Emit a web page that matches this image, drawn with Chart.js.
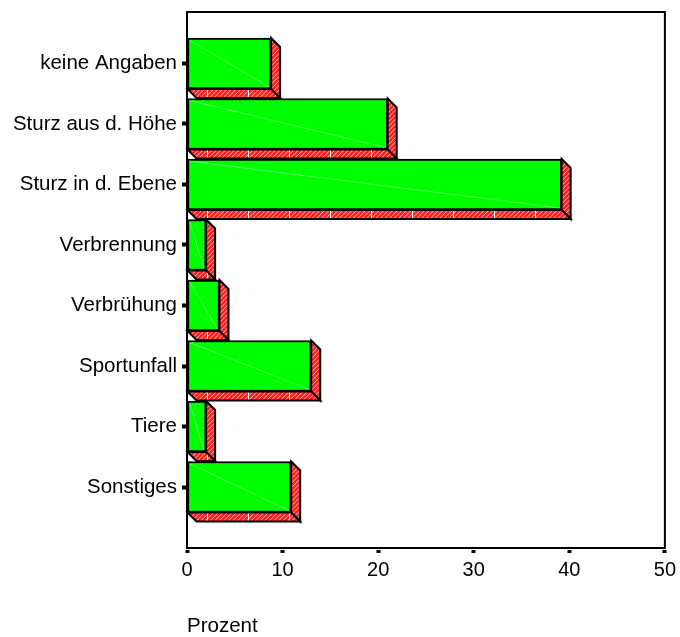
<!DOCTYPE html>
<html>
<head>
<meta charset="utf-8">
<script src="https://cdn.jsdelivr.net/npm/chart.js@4"></script>
<style>
html, body { margin: 0; padding: 0; background: #fff; }
</style>
</head>
<body>
<canvas id="myChart" width="680" height="637"></canvas>
<script>
// data
var categories = ['keine Angaben', 'Sturz aus d. Höhe', 'Sturz in d. Ebene', 'Verbrennung', 'Verbrühung', 'Sportunfall', 'Tiere', 'Sonstiges'];
var prozent = [8.8, 21.0, 39.2, 2.0, 3.4, 13.0, 2.0, 10.9];
var xTicks = [0, 10, 20, 30, 40, 50];
var xTitle = 'Prozent';

Chart.defaults.font.family = '"Liberation Sans", Arial, sans-serif';
Chart.defaults.color = '#000';

var DX = 9, DY = 9;

function makeHatch(withVertical) {
    var s = 41;
    var c = document.createElement('canvas');
    c.width = s; c.height = s;
    var g = c.getContext('2d');
    g.fillStyle = '#ff2020';
    g.fillRect(0, 0, s, s);
    g.strokeStyle = 'rgba(255,255,255,0.65)';
    g.lineWidth = 1;
    var p = s / 9;
    for (var k = 0; k <= 18; k++) {
        g.beginPath();
        g.moveTo(k * p, 0);
        g.lineTo(k * p - s, s);
        g.stroke();
    }
    if (withVertical) {
        g.strokeStyle = '#fff';
        g.beginPath();
        g.moveTo(0.5, 0);
        g.lineTo(0.5, s);
        g.stroke();
    }
    return c;
}

var ctx = document.getElementById('myChart').getContext('2d');
var hatchSide = ctx.createPattern(makeHatch(false), 'repeat');
var hatchBottom = ctx.createPattern(makeHatch(true), 'repeat');
if (hatchBottom.setTransform) hatchBottom.setTransform(new DOMMatrix().translate(2, 0));

var depth = {
    id: 'depth',
    beforeDatasetsDraw: function(chart) {
        var c = chart.ctx;
        chart.getDatasetMeta(0).data.forEach(function(bar) {
            var p = bar.getProps(['x', 'y', 'base', 'height'], true);
            var top = p.y - p.height / 2, bottom = p.y + p.height / 2;
            c.save();
            c.lineWidth = 2;
            c.strokeStyle = '#000';
            c.lineJoin = 'miter';
            // right face
            c.beginPath();
            c.moveTo(p.x, top);
            c.lineTo(p.x + DX, top + DY);
            c.lineTo(p.x + DX, bottom + DY);
            c.lineTo(p.x, bottom);
            c.closePath();
            c.fillStyle = hatchSide;
            c.fill();
            c.stroke();
            // bottom face
            c.beginPath();
            c.moveTo(p.base, bottom);
            c.lineTo(p.x, bottom);
            c.lineTo(p.x + DX, bottom + DY);
            c.lineTo(p.base + DX, bottom + DY);
            c.closePath();
            c.fillStyle = hatchBottom;
            c.fill();
            c.stroke();
            c.restore();
        });
    },
    afterDatasetsDraw: function(chart) {
        var c = chart.ctx;
        chart.getDatasetMeta(0).data.forEach(function(bar) {
            var p = bar.getProps(['x', 'y', 'base', 'height'], true);
            var top = p.y - p.height / 2, bottom = p.y + p.height / 2;
            c.save();
            c.strokeStyle = 'rgba(255,255,255,0.35)';
            c.lineWidth = 1;
            c.beginPath();
            c.moveTo(p.base + 2, top + 2);
            c.lineTo(p.x - 2, bottom - 2);
            c.stroke();
            c.restore();
        });
    },
    afterDraw: function(chart) {
        var a = chart.chartArea, c = chart.ctx;
        c.save();
        c.strokeStyle = '#000';
        c.lineWidth = 2;
        c.strokeRect(a.left, a.top, a.right - a.left, a.bottom - a.top);
        c.restore();
    }
};

var chart = new Chart(ctx, {
    type: 'bar',
    data: {
        datasets: [{
            label: xTitle,
            data: prozent.map(function(v, i) { return { x: v, y: i }; }),
            backgroundColor: '#00ff00',
            borderColor: '#000',
            borderWidth: 2,
            borderSkipped: false,
            barThickness: 51
        }]
    },
    options: {
        indexAxis: 'y',
        responsive: false,
        animation: false,
        events: [],
        layout: { padding: { top: 12, right: 15, bottom: 0, left: 0 } },
        plugins: { legend: { display: false }, tooltip: { enabled: false } },
        scales: {
            x: {
                type: 'linear',
                bounds: 'data',
                min: 0,
                max: 50,
                afterBuildTicks: function(scale) {
                    scale.ticks = xTicks.map(function(v) { return { value: v }; });
                },
                afterFit: function(scale) { scale.height = 89; },
                ticks: { font: { size: 20 }, padding: 4, maxRotation: 0, autoSkip: false },
                grid: {
                    drawOnChartArea: false,
                    tickLength: 6,
                    tickWidth: 4,
                    tickColor: '#000',
                    tickBorderDash: [0, 1, 3, 100]
                },
                border: { display: true, color: '#000', width: 2 },
                title: {
                    display: true,
                    text: xTitle,
                    align: 'start',
                    font: { size: 20.5, lineHeight: 1 },
                    padding: { top: 0, bottom: 0 }
                }
            },
            y: {
                type: 'linear',
                bounds: 'data',
                reverse: true,
                offset: false,
                min: -0.851,
                max: 8.008,
                afterBuildTicks: function(scale) {
                    scale.ticks = categories.map(function(c, i) { return { value: i }; });
                },
                afterFit: function(scale) {
                    scale.width = 187;
                    scale.paddingTop = 0;
                    scale.paddingBottom = 0;
                },
                ticks: {
                    font: { size: 20.5 },
                    padding: 4,
                    autoSkip: false,
                    callback: function(v) { return categories[v]; }
                },
                grid: {
                    offset: false,
                    drawOnChartArea: false,
                    tickLength: 6,
                    tickWidth: 4,
                    tickColor: '#000',
                    tickBorderDash: [0, 1, 4, 100]
                },
                border: { display: true, color: '#000', width: 2 }
            }
        }
    },
    plugins: [depth]
});
</script>
</body>
</html>
